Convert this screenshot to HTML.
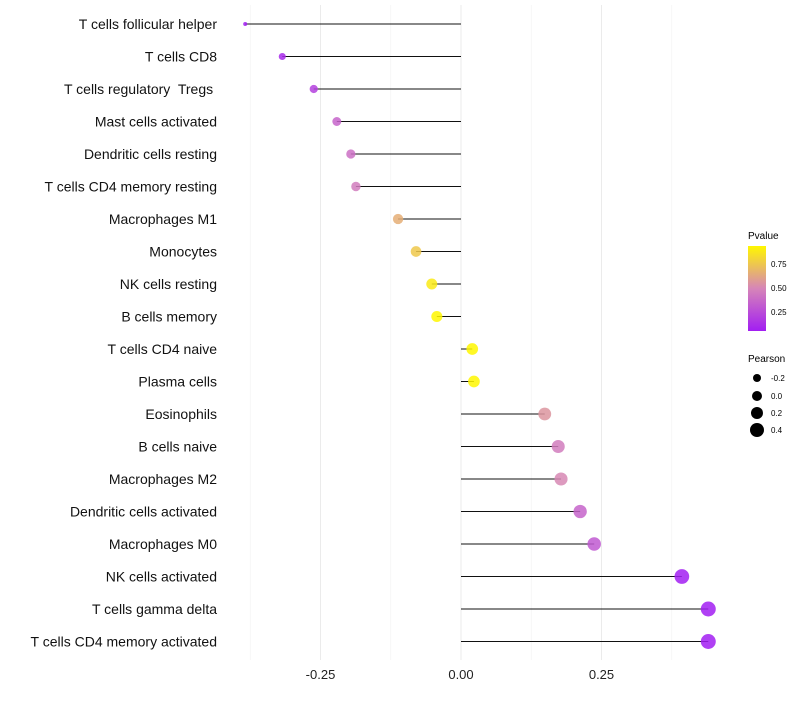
<!DOCTYPE html>
<html><head><meta charset="utf-8"><style>
body{margin:0;background:#fff;font-family:"Liberation Sans",sans-serif}
svg text{font-family:"Liberation Sans",sans-serif;white-space:pre}
</style></head><body>
<svg id="chart" width="800" height="700">
<defs><linearGradient id="pg" x1="0" y1="1" x2="0" y2="0">
<stop offset="0" stop-color="#a21ef2"/><stop offset="0.5" stop-color="#d685b8"/><stop offset="1" stop-color="#fff700"/></linearGradient></defs>
<g id="grid"></g><g id="marks"></g><g id="labels"></g>
<g>
<text x="748" y="239" font-size="10">Pvalue</text>
<rect x="748" y="246" width="18" height="85" fill="url(#pg)"/>
<text x="771" y="267" font-size="8">0.75</text>
<text x="771" y="291" font-size="8">0.50</text>
<text x="771" y="315" font-size="8">0.25</text>
</g>
<g>
<text x="748" y="362" font-size="10">Pearson</text>
<circle cx="757" cy="378" r="4"/><text x="771" y="381" font-size="8">-0.2</text>
<circle cx="757" cy="396" r="5"/><text x="771" y="399" font-size="8">0.0</text>
<circle cx="757" cy="413" r="6"/><text x="771" y="416" font-size="8">0.2</text>
<circle cx="757" cy="430" r="7"/><text x="771" y="433" font-size="8">0.4</text>
</g>
</svg>
<script>
const categories=["T cells follicular helper","T cells CD8","T cells regulatory  Tregs ","Mast cells activated","Dendritic cells resting","T cells CD4 memory resting","Macrophages M1","Monocytes","NK cells resting","B cells memory","T cells CD4 naive","Plasma cells","Eosinophils","B cells naive","Macrophages M2","Dendritic cells activated","Macrophages M0","NK cells activated","T cells gamma delta","T cells CD4 memory activated"];
const pearson=[-0.384,-0.318,-0.262,-0.221,-0.196,-0.187,-0.112,-0.080,-0.052,-0.043,0.020,0.023,0.149,0.173,0.178,0.212,0.237,0.393,0.440,0.440];
const pvalue=[0.02,0.1,0.2,0.35,0.4,0.45,0.65,0.75,0.88,0.93,1.0,1.0,0.55,0.45,0.5,0.35,0.3,0.05,0.02,0.02];
const xTicks=[-0.25,0,0.25];
const xTickLabels=["-0.25","0.00","0.25"];
const NS="http://www.w3.org/2000/svg";
const x=v=>461+v*562;
const y=i=>24+i*32.5;
const rad=v=>2+5.5*Math.sqrt(Math.max(0,(v+0.384)/0.824));
function lerp(a,b,t){return a.map((c,k)=>Math.round(c+(b[k]-c)*t));}
function col(p){const lo=0.05,hi=0.93;let t=Math.max(0,Math.min(1,(p-lo)/(hi-lo)));
const A=[162,30,242],M=[214,133,184],B=[255,247,0];
const c=t<0.5?lerp(A,M,t*2):lerp(M,B,(t-0.5)*2);return `rgb(${c})`;}
function mk(tag,attrs,parent){const e=document.createElementNS(NS,tag);for(const k in attrs)e.setAttribute(k,attrs[k]);parent.appendChild(e);return e;}
const grid=document.getElementById('grid'),marks=document.getElementById('marks'),labels=document.getElementById('labels');
[-0.375,-0.125,0.125,0.375].forEach(v=>{const l=mk('line',{x1:x(v),x2:x(v),y1:5,y2:660,stroke:'#f2f2f2','stroke-width':0.6},grid);

});
xTicks.forEach((v,i)=>{const l=mk('line',{x1:x(v),x2:x(v),y1:5,y2:660,stroke:'#ebebeb','stroke-width':1},grid);


const t=mk('text',{x:x(v),y:679,'font-size':13,'text-anchor':'middle',fill:'#222'},labels);t.textContent=xTickLabels[i];

});
categories.forEach((c,i)=>{const t=mk('text',{x:217,y:y(i)+5,'font-size':14,'text-anchor':'end',fill:'#111'},labels);t.textContent=c;


const l=mk('line',{x1:x(0),x2:x(pearson[i]),y1:y(i),y2:y(i),stroke:'#111','stroke-width':1},marks);


const p=mk('circle',{cx:x(pearson[i]),cy:y(i),r:rad(pearson[i]),fill:col(pvalue[i]),'fill-opacity':0.85},marks);

});
</script>
</body></html>
